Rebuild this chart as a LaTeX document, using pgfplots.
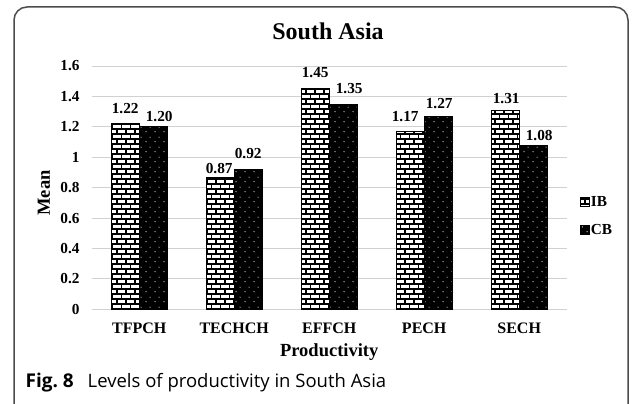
\documentclass[border=0pt]{standalone}
\usepackage{fontspec}
\setmainfont{Liberation Serif}
\newfontfamily\capfont{Open Sans}
\usepackage{pgfplots}
\usepackage{pgfplotstable}
\pgfplotsset{compat=1.18}
\usetikzlibrary{patterns}

\pgfdeclarepatternformonly{ibbricks}{\pgfpoint{-1bp}{-1bp}}{\pgfpoint{10bp}{11bp}}{\pgfpoint{9bp}{10bp}}{%
  \pgfsetlinewidth{1.2bp}%
  \pgfpathmoveto{\pgfpoint{0bp}{0bp}}\pgfpathlineto{\pgfpoint{9bp}{0bp}}%
  \pgfpathmoveto{\pgfpoint{0bp}{5bp}}\pgfpathlineto{\pgfpoint{9bp}{5bp}}%
  \pgfpathmoveto{\pgfpoint{0bp}{0bp}}\pgfpathlineto{\pgfpoint{0bp}{5bp}}%
  \pgfpathmoveto{\pgfpoint{4.5bp}{5bp}}\pgfpathlineto{\pgfpoint{4.5bp}{10bp}}%
  \pgfusepath{stroke}%
}
\pgfdeclarepatternformonly{cbdots}{\pgfpoint{0bp}{0bp}}{\pgfpoint{9bp}{10bp}}{\pgfpoint{9bp}{10bp}}{%
  \pgfpathcircle{\pgfpoint{2.25bp}{2.5bp}}{0.6bp}%
  \pgfpathcircle{\pgfpoint{6.75bp}{7.5bp}}{0.6bp}%
  \pgfusepath{fill}%
}

\pgfplotstableread{
x y dx dy
0 1.22 0 10.7
1 0.87 -1 4
2 1.45 0 11
3 1.17 -5 9.6
4 1.31 1 7
}\ibdata
\pgfplotstableread{
x y dx dy
0 1.20 6 5
1 0.92 0 11
2 1.35 6 11
3 1.27 1 8
4 1.08 6 5
}\cbdata

\begin{document}
\begin{tikzpicture}
\path[use as bounding box] (0,0) rectangle (637bp,404bp);
\begin{axis}[
  at={(91.7bp,94.7bp)}, anchor=south west,
  scale only axis, width=475bp, height=243.3bp,
  xmin=-0.5, xmax=4.5, ymin=0, ymax=1.6,
  ybar, bar width=28bp,
  xtick={0,1,2,3,4},
  xticklabels={TFPCH,TECHCH,EFFCH,PECH,SECH},
  ytick={0,0.2,0.4,0.6,0.8,1,1.2,1.4,1.6},
  /pgf/number format/assume math mode=true,
  axis line style={draw=none},
  major tick length=0pt,
  ymajorgrids,
  major grid style={draw=black!18, line width=0.9bp},
  clip=false,
  xticklabel style={font=\fontsize{16bp}{18bp}\selectfont\bfseries, inner sep=0pt, yshift=-13bp},
  yticklabel style={font=\fontsize{15.3bp}{18bp}\selectfont\bfseries, inner sep=0pt, xshift=-12bp},
  title={South Asia},
  every axis title/.style={at={(axis description cs:0.4975,1.107)}, anchor=base, font=\fontsize{24bp}{28bp}\selectfont\bfseries},
  xlabel={Productivity},
  every axis x label/.style={at={(axis description cs:0.5,-0.194)}, anchor=base, font=\fontsize{18.5bp}{22bp}\selectfont\bfseries},
  ylabel={Mean},
  every axis y label/.style={at={(axis description cs:-0.0878,0.478)}, rotate=90, anchor=base, font=\fontsize{18.5bp}{22bp}\selectfont\bfseries},
  legend style={at={(axis description cs:1.027,0.383)}, anchor=west, draw=none, fill=none,
    inner sep=0pt, font=\fontsize{15.3bp}{18bp}\selectfont\bfseries, row sep=13.7bp,
    nodes={inner sep=1.5bp}},
  legend cell align=left,
  legend image code/.code={\draw[#1, line width=0.6bp] (0bp,-4.5bp) rectangle (9bp,4.5bp);},
  nodes near coords={\pgfmathprintnumber[fixed,fixed zerofill,precision=2]{\pgfplotspointmeta}},
  visualization depends on={\thisrow{dx} \as \labeldx},
  visualization depends on={\thisrow{dy} \as \labeldy},
  every node near coord/.append style={font=\fontsize{15.3bp}{18bp}\selectfont\bfseries, anchor=base, inner sep=0pt, xshift=\labeldx bp, yshift=\labeldy bp},
]
\addplot[bar shift=-14bp, draw=black, line width=0.8bp, fill=white, postaction={pattern=ibbricks, pattern color=black}] table[x=x, y=y] {\ibdata};
\addlegendentry{IB}
\addplot[bar shift=14bp, draw=black, line width=0.8bp, fill=black, postaction={pattern=cbdots, pattern color=white}] table[x=x, y=y] {\cbdata};
\addlegendentry{CB}
\end{axis}
\draw[black!70, line width=1.5bp] (14bp,-20bp) -- (14bp,384bp) arc[start angle=180, end angle=90, radius=13bp] -- (615bp,397bp) arc[start angle=90, end angle=0, radius=13bp] -- (628bp,-20bp);
\node[anchor=base west, inner sep=0pt, font=\capfont\bfseries\fontsize{19bp}{22bp}\selectfont] at (25.5bp,17bp) {Fig.~8};
\node[anchor=base west, inner sep=0pt, font=\capfont\fontsize{18.5bp}{22bp}\selectfont] at (87.5bp,17bp) {Levels of productivity in South Asia};
\end{tikzpicture}
\end{document}
